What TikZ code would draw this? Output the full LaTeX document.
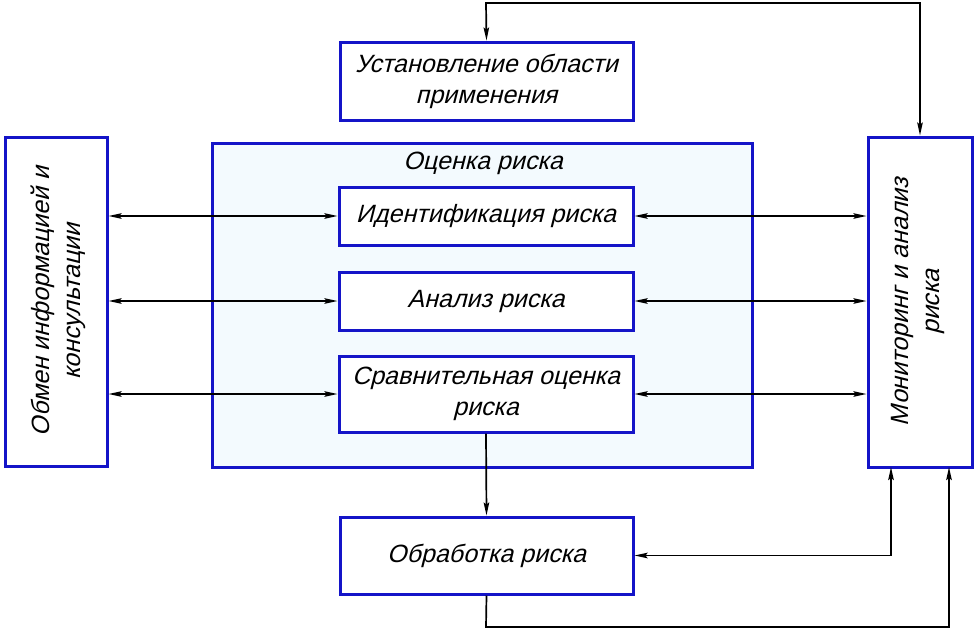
\documentclass[tikz,border=0pt]{standalone}
\usepackage{fontspec}
\setmainfont{Liberation Sans}[FakeSlant=0.25]
\usetikzlibrary{arrows.meta}
\definecolor{bblue}{RGB}{20,20,200}
\definecolor{lfill}{RGB}{243,250,254}
\begin{document}
\begin{tikzpicture}[x=1pt,y=-1pt,
  box/.style={draw=bblue, line width=3pt, fill=white, align=center, inner sep=2pt, font=\fontsize{25}{31}\selectfont},
  conn/.style={draw=black, line width=1.7pt, arrows={-Stealth[length=13pt,width=5.5pt,inset=2pt]}},
  conn2/.style={draw=black, line width=1.7pt, arrows={Stealth[length=13pt,width=5.5pt,inset=2pt]-Stealth[length=13pt,width=5.5pt,inset=2pt]}},
  lbl/.style={font=\fontsize{25}{31}\selectfont}]
\useasboundingbox (0,0) rectangle (975,630);
\node[box, minimum width=293pt, minimum height=78pt] (top) at (486.5,81) {Установление области\\применения};
\node[box, minimum width=102pt, minimum height=329pt] (left) at (56,301.5) {};
\node[lbl, rotate=90, align=center] (lefttxt) at (58,301.5) {Обмен информацией и\\консультации};
\node[box, fill=lfill, minimum width=540pt, minimum height=324pt] (big) at (482,305) {};
\node[lbl] (bigtxt) at (483,163) {Оценка риска};
\node[box, minimum width=294pt, minimum height=58pt] (id) at (486,216) {Идентификация риска};
\node[box, minimum width=294pt, minimum height=58pt] (an) at (486,301) {Анализ риска};
\node[box, minimum width=294pt, minimum height=76pt] (cmp) at (486,394) {Сравнительная оценка\\риска};
\node[box, minimum width=104pt, minimum height=330pt] (right) at (920,302) {};
\node[lbl, rotate=90, align=center] (righttxt) at (918,302) {Мониторинг и анализ\\риска};
\node[box, minimum width=293pt, minimum height=77pt] (bot) at (486.5,555.5) {Обработка риска};
% top loop
\coordinate (t1) at (486,3);
\coordinate (t2) at (920,3);
\draw[conn2] (top.north) -- (t1) -- (t2) -- (right.north);
% horizontal links
\draw[conn2] (left.east |- id.west) -- (id.west);
\draw[conn2] (left.east |- an.west) -- (an.west);
\draw[conn2] (left.east |- cmp.west) -- (cmp.west);
\draw[conn2] (id.east) -- (right.west |- id.east);
\draw[conn2] (an.east) -- (right.west |- an.east);
\draw[conn2] (cmp.east) -- (right.west |- cmp.east);
% down to treatment
\draw[conn] (cmp.south) -- (bot.north);
% treatment <-> monitoring
\coordinate (rb1) at (891,467);
\coordinate (rb2) at (949,467);
\draw[conn2] (bot.east) -| (rb1);
\coordinate (b1) at (486,627);
\coordinate (b2) at (949,627);
\draw[conn] (bot.south) -- (b1) -- (b2) -- (rb2);
\end{tikzpicture}
\end{document}
